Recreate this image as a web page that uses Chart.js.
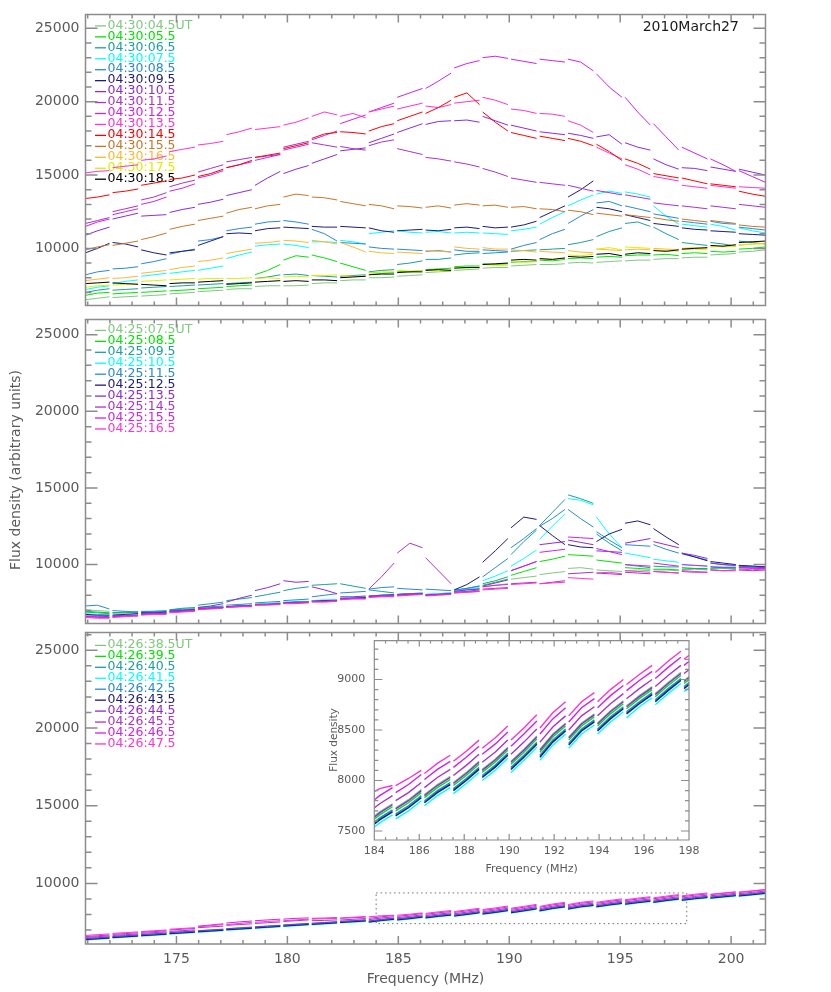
<!DOCTYPE html>
<html>
<head>
<meta charset="utf-8">
<script src="https://cdn.jsdelivr.net/npm/chart.js@4/dist/chart.umd.min.js"></script>
<style>
  html, body { margin: 0; padding: 0; background: #ffffff; }
  #wrap { position: relative; width: 831px; height: 992px; overflow: hidden; background: #ffffff; }
  canvas { position: absolute; }
</style>
</head>
<body>
<div id="wrap">
  <canvas id="cTop" width="831" height="320" style="left:0;top:0"></canvas>
  <canvas id="cMid" width="831" height="333" style="left:0;top:305px"></canvas>
  <canvas id="cBot" width="831" height="374" style="left:0;top:618px"></canvas>
  <canvas id="cIns" width="420" height="260" style="left:290px;top:625px"></canvas>
</div>
<script>
// ---------------- frequency axis / data segmentation ----------------
const freqMin = 170.9, freqMax = 201.55;
// frequencies where the receiver data have small gaps (sub-band boundaries)
const gapFreqs = [172.05, 173.34, 174.62, 175.9, 177.18, 178.47, 179.75, 181.03, 182.31, 183.6,
  184.88, 186.16, 187.45, 188.73, 190.01, 191.3, 192.58, 193.86, 195.15, 196.43, 197.71, 199.0, 200.28];
const gapHalfWidth = 0.07;
const xTickLabels = [175, 180, 185, 190, 195, 200];
const yTickLabels = [10000, 15000, 20000, 25000];
const insetXTicks = [184, 186, 188, 190, 192, 194, 196, 198];
const insetYTicks = [7500, 8000, 8500, 9000];

// ---------------- panel 1 : 04:30 UT ----------------
const topLabels = ['04:30:04.5UT','04:30:05.5','04:30:06.5','04:30:07.5','04:30:08.5','04:30:09.5','04:30:10.5',
  '04:30:11.5','04:30:12.5','04:30:13.5','04:30:14.5','04:30:15.5','04:30:16.5','04:30:17.5','04:30:18.5'];
const t045 = [6500,6600,6700, 6650,6700,6750, 6750,6800,6850, 6900,6950,7000,
  7050,7100,7150, 7200,7250,7250, 7400,7450,7450, 7450,7450,7500,
  7600,7650,7650, 7800,7850,7850, 8000,8000,8050, 8100,8150,8200,
  8350,8400,8450, 8500,8550,8600, 8650,8700,8700, 8800,8850,8900,
  8900,8900,8950, 9000,9050,9000, 9050,9100,9150, 9150,9200,9200,
  9250,9300,9300, 9350,9400,9400, 9550,9600,9650, 9750,9800,9900];
const t055 = [6800,6950,7000, 6900,6950,7000, 7000,7050,7100, 7100,7150,7200,
  7250,7300,7350, 7400,7450,7500, 8200,8500,8900, 9200,9500,9400,
  9550,9350,9100, 9000,8750,8500, 8350,8300,8350, 8450,8400,8500,
  8550,8600,8650, 8750,8800,8800, 8950,8900,8950, 9050,9100,9100,
  9200,9150,9250, 9300,9350,9300, 9400,9450,9400, 9500,9550,9550,
  9550,9600,9500, 9650,9700,9650, 9800,9750,9800, 9950,10000,10100];
const t065 = [7000,7150,7250, 7150,7200,7250, 7300,7350,7400, 7400,7450,7500,
  7500,7550,7600, 7600,7650,7700, 7950,8050,8200, 8200,8250,8150,
  8150,8100,8050, 8100,8150,8200, 8400,8500,8550, 8900,9000,9150,
  9250,9250,9350, 9550,9650,9700, 9650,9700,9750, 9800,9850,9900,
  9900,9950,10000, 10250,10400,10600, 10800,11150,11400, 11700,11800,11500,
  11450,11000,10600, 10400,10300,10200, 10400,10300,10150, 10500,10400,10300];
const t075 = [7200,7350,7450, 7600,7750,7850, 8100,8200,8300, 8300,8400,8500,
  8500,8650,8800, 9300,9550,9750, 10150,10250,10300, 10300,10200,10050,
  10450,10450,10400, 10550,10450,10300, 11000,11100,11200, 11200,11100,11050,
  11100,11150,11050, 11050,11100,11050, 11050,11000,10950, 11200,11300,11450,
  11650,12100,12500, 12900,13300,13650, 13700,13900,13750, 13850,13700,13500,
  12900,12200,11650, 11650,11550,11450, 11650,11500,11250, 11400,11200,11050];
const t085 = [8200,8400,8500, 8600,8650,8750, 8950,9100,9300, 9600,9800,9950,
  10500,10600,10800, 11200,11350,11450, 11650,11800,11850, 11900,11800,11650,
  11300,11000,10500, 10400,10350,10300, 10100,10000,9950, 9950,9900,9850,
  9800,9850,9750, 9900,9800,9800, 9900,9850,9800, 9950,10200,10400,
  10600,11000,11300, 11700,12200,12650, 13100,13200,12900, 12900,12700,12500,
  12350,12200,12050, 11850,11750,11650, 11850,11700,11650, 11450,11350,11250];
const t095 = [9700,10000,10350, 10400,10300,10100, 9900,9700,9550, 9700,9800,9900,
  10200,10500,10800, 11000,11050,11000, 11200,11350,11400, 11450,11400,11350,
  11500,11450,11450, 11500,11450,11400, 11400,11200,11100, 11200,11250,11300,
  11250,11200,11300, 11400,11450,11350, 11500,11400,11450, 11450,11600,11850,
  12100,12500,12900, 13500,14000,14600, 12800,12700,12500, 12300,12100,11900,
  11700,11600,11500, 11400,11300,11250, 11200,11150,11100, 11000,10950,10900];
const t105 = [10900,11200,11450, 12000,12200,12400, 12200,12250,12300, 12450,12650,12800,
  13000,13150,13350, 13600,13800,14000, 14300,14800,15250, 15100,15400,15650,
  15800,16100,16400, 16650,16750,16850, 17200,17500,17800, 17900,18200,18500,
  18450,18650,18700, 18700,18750,18600, 19000,18700,18400, 18400,18200,18000,
  17950,17850,17750, 17850,17700,17500, 17600,17750,17100, 17200,16900,16700,
  16100,15700,15400, 15500,15450,15300, 15550,15400,15250, 15400,15200,15000];
const t115 = [11700,11900,12100, 12500,12700,12900, 13300,13500,13800, 14200,14450,14650,
  15200,15450,15700, 15900,16050,16200, 16200,16300,16400, 16900,17100,17300,
  17200,17050,16900, 16950,16800,16700, 17000,17250,17400, 16800,16600,16400,
  16200,16100,15950, 15900,15750,15550, 15450,15200,14900, 14800,14650,14500,
  14500,14400,14300, 14300,14100,13900, 13950,13800,13650, 13650,13500,13350,
  13100,13000,12900, 12900,12800,12700, 12900,12800,12700, 13000,12900,12800];
const t125 = [11500,11800,12000, 12300,12500,12700, 13000,13200,13500, 13900,14100,14400,
  14800,15000,15300, 15500,15700,15900, 16000,16200,16400, 16700,16900,17100,
  17400,17700,18000, 18500,18800,19100, 19300,19600,19900, 20300,20600,20900,
  20900,21400,21950, 22300,22600,22800, 23000,23100,22950, 22900,22750,22600,
  22900,22800,22700, 22900,22700,22100, 21900,21000,20300, 20300,19300,18400,
  18500,17600,16700, 16900,16500,16100, 16100,15700,15250, 15300,14900,14500];
const t135 = [15150,15250,15300, 15500,15600,15700, 16000,16100,16300, 16600,16750,16900,
  17050,17150,17300, 17750,17950,18200, 18100,18200,18300, 18400,18600,18900,
  19000,19300,19100, 19000,19200,18900, 19300,19500,19700, 19500,19700,19900,
  19700,19600,19800, 19900,20000,20100, 20300,20100,19800, 19500,19400,19200,
  19200,19150,19000, 18700,18400,17900, 16900,16500,16100, 15700,15400,15000,
  14900,14750,14600, 14300,14200,14100, 14300,14200,14100, 14200,14150,14100];
const t145 = [13400,13500,13650, 13800,13900,14050, 14300,14450,14600, 14700,14800,15000,
  14900,15100,15400, 15500,15700,16000, 16200,16350,16500, 16800,17000,17200,
  17500,17800,17900, 17950,17900,17800, 18000,18300,18500, 18700,19000,19300,
  19200,19600,20100, 20300,20600,19800, 19300,18600,18000, 17900,17700,17500,
  17650,17500,17350, 17500,17300,17000, 17100,16600,16000, 16100,15800,15400,
  15100,14950,14800, 14800,14600,14400, 14400,14300,14200, 13900,13700,13550];
const t155 = [9900,10100,10250, 10200,10350,10500, 10600,10800,11050, 11300,11500,11650,
  11900,12050,12200, 12400,12650,12800, 12700,12900,13000, 13500,13700,13600,
  13500,13450,13300, 13200,13050,12900, 13000,12900,12700, 12900,12850,12750,
  12800,12900,12750, 12950,13050,12950, 12900,12950,12800, 12800,12850,12700,
  12700,12650,12500, 12600,12500,12300, 12400,12300,12200, 12300,12200,12100,
  12100,11950,11850, 12000,11900,11800, 11900,11800,11700, 11600,11500,11450];
const t165 = [7800,7900,8000, 7950,8000,8100, 8300,8400,8500, 8550,8700,8800,
  9100,9200,9350, 9650,9800,9950, 10350,10400,10500, 10550,10500,10400,
  10550,10450,10300, 10400,10100,9750, 9800,9700,9650, 9750,9700,9650,
  9850,9800,9750, 10100,10000,9950, 10050,9950,9950, 9900,9850,9750,
  9800,9750,9700, 9850,9750,9700, 9950,9900,9850, 9900,9950,9900,
  10000,9950,9900, 10000,10050,10000, 10100,10150,10200, 10200,10300,10350];
const t175 = [7350,7450,7500, 7500,7550,7600, 7750,7800,7850, 7850,7900,7950,
  7900,7950,7950, 7950,7950,8000, 7950,8000,7950, 8050,8100,8050,
  8150,8150,8200, 8150,8100,8100, 8350,8400,8400, 8500,8450,8500,
  8500,8450,8550, 8700,8650,8750, 8900,8850,8850, 9100,9050,9100,
  9300,9250,9300, 9550,9500,9600, 9950,10050,9900, 10100,10050,10000,
  9900,9850,9800, 9900,9950,9900, 10150,10100,10150, 10250,10300,10300];
const t185 = [7600,7650,7700, 7650,7600,7550, 7550,7500,7450, 7600,7650,7650,
  7700,7750,7800, 7550,7600,7650, 7700,7750,7800, 7750,7800,7750,
  7850,7850,7800, 8000,8050,8100, 8200,8250,8250, 8350,8400,8400,
  8500,8550,8500, 8650,8700,8700, 8900,8950,9000, 9200,9250,9200,
  9300,9250,9350, 9450,9400,9450, 9600,9650,9500, 9600,9700,9650,
  9850,9800,9900, 9950,10000,10050, 10200,10150,10250, 10400,10450,10500];

// ---------------- panel 2 : 04:25 UT ----------------
const midLabels = ['04:25:07.5UT','04:25:08.5','04:25:09.5','04:25:10.5','04:25:11.5',
  '04:25:12.5','04:25:13.5','04:25:14.5','04:25:15.5','04:25:16.5'];
const m075 = [7050,7000,6950, 6850,6850,6900, 6850,6900,6900, 7000,7050,7100,
  7150,7200,7250, 7250,7300,7350, 7400,7450,7450, 7500,7550,7550,
  7600,7650,7700, 7800,7850,7850, 7950,8000,8000, 8050,8100,8100,
  8000,8050,8100, 8200,8250,8300, 8550,8650,8750, 9050,9150,9250,
  9350,9450,9550, 9750,9800,9700, 9650,9600,9550, 9600,9650,9600,
  9650,9650,9600, 9650,9700,9650, 9700,9750,9700, 9750,9800,9750];
const m085 = [6900,6850,6800, 6850,6850,6900, 6900,6900,6950, 7000,7050,7100,
  7150,7200,7250, 7250,7300,7350, 7400,7450,7500, 7500,7550,7600,
  7650,7650,7700, 7800,7850,7850, 7950,8000,8050, 8050,8100,8100,
  8050,8050,8100, 8250,8350,8450, 8650,8850,9050, 9300,9550,9800,
  10200,10350,10550, 10650,10600,10550, 10300,10200,10100, 9800,9750,9700,
  9700,9700,9650, 9700,9750,9700, 9750,9800,9750, 9800,9850,9800];
const m095 = [6950,6900,6850, 6850,6900,6900, 6950,6950,7000, 7050,7150,7200,
  7350,7450,7550, 7650,7750,7850, 7900,8050,8200, 8300,8450,8550,
  8650,8700,8750, 8750,8600,8450, 8350,8250,8150, 8050,8100,8150,
  8050,8100,8150, 8300,8450,8600, 8750,8950,9200, 10650,11500,12250,
  12550,13400,14250, 14550,14300,14000, 12000,11400,10900, 10000,9900,9800,
  9900,9850,9850, 9800,9750,9750, 9850,9800,9800, 9850,9800,9850];
const m105 = [6800,6750,6700, 6700,6750,6800, 6850,6850,6900, 6950,7000,7050,
  7100,7150,7200, 7250,7300,7350, 7400,7450,7500, 7550,7600,7600,
  7650,7700,7700, 7800,7850,7900, 7950,8000,8000, 8050,8100,8150,
  8050,8100,8150, 8300,8400,8500, 8950,9250,9600, 9900,10400,10950,
  11650,12500,13300, 14300,14200,13900, 13100,12000,11100, 10750,10600,10450,
  10350,10250,10150, 10000,9950,9900, 9900,9850,9850, 9900,9850,9800];
const m115 = [7300,7350,7100, 7000,6950,6900, 6900,6950,6950, 7050,7100,7100,
  7200,7250,7300, 7350,7400,7450, 7500,7550,7600, 7650,7700,7750,
  7900,8000,8100, 8150,8200,8250, 8400,8500,8550, 8450,8400,8350,
  8400,8350,8300, 8350,8450,8600, 9200,9800,10400, 11100,11700,12350,
  12500,13000,13600, 13600,13000,12450, 12150,11600,11100, 11300,11250,11200,
  11300,11000,10750, 10700,10500,10300, 10100,10000,9950, 9950,9900,9850];
const m125 = [6750,6700,6700, 6700,6750,6800, 6850,6850,6900, 6950,7000,7050,
  7100,7150,7200, 7250,7300,7300, 7400,7400,7450, 7500,7550,7550,
  7600,7650,7650, 7750,7800,7850, 7900,7950,7950, 8000,8050,8100,
  8000,8050,8100, 8350,8700,9200, 10150,10900,11700, 12400,13100,12950,
  12550,11900,11300, 11300,11150,11100, 11500,12000,12300, 12700,12850,12600,
  12350,11800,11300, 10750,10500,10250, 10200,10100,10000, 9950,9900,9850];
const m135 = [6650,6650,6600, 6650,6700,6700, 6800,6850,6850, 6950,7000,7050,
  7200,7300,7450, 7550,7800,8000, 8300,8500,8750, 8950,8850,8900,
  8550,8350,8100, 7900,7900,7950, 7950,8000,8050, 8050,8100,8100,
  8000,8050,8100, 8250,8350,8400, 8600,8800,9000, 9600,9900,10200,
  11300,11400,11500, 11600,11450,11300, 10900,10850,10800, 11400,11550,11700,
  11500,11300,11100, 10750,10600,10400, 10100,10000,9950, 9900,9850,9800];
const m145 = [6600,6600,6550, 6600,6650,6700, 6750,6800,6800, 6900,6950,7000,
  7100,7150,7200, 7250,7300,7300, 7400,7400,7450, 7500,7500,7550,
  7600,7600,7650, 7750,7800,7800, 8400,9200,10100, 10750,11400,11100,
  10450,9600,8750, 8150,8200,8250, 8400,8450,8500, 8750,8800,8850,
  8750,8850,8950, 9400,9450,9500, 9450,9400,9350, 9500,9450,9400,
  9550,9500,9450, 9550,9500,9500, 9650,9600,9650, 9650,9600,9650];
const m155 = [6600,6550,6550, 6600,6650,6650, 6750,6800,6800, 6900,6950,7000,
  7100,7150,7200, 7200,7250,7300, 7350,7400,7450, 7500,7500,7550,
  7600,7600,7650, 7750,7800,7800, 7900,7950,7950, 8000,8050,8100,
  8000,8050,8100, 8200,8250,8350, 8550,8650,8700, 9600,9900,10200,
  10800,10900,11000, 11800,11750,11700, 11050,10850,10650, 10000,9950,9900,
  10100,10000,9900, 10000,9950,9900, 9850,9800,9800, 9800,9750,9750];
const m165 = [6550,6500,6500, 6550,6600,6650, 6700,6750,6750, 6850,6900,6950,
  7050,7100,7150, 7200,7250,7250, 7350,7350,7400, 7450,7450,7500,
  7550,7550,7600, 7700,7750,7750, 7850,7900,7900, 7950,8000,8050,
  7950,8000,8050, 8150,8200,8250, 8350,8400,8450, 8700,8750,8800,
  8750,8800,8850, 9150,9100,9050, 9450,9500,9400, 9600,9550,9500,
  9550,9500,9450, 9600,9550,9500, 9650,9600,9600, 9650,9700,9650];

// ---------------- panel 3 : 04:26 UT ----------------
const botLabels = ['04:26:38.5UT','04:26:39.5','04:26:40.5','04:26:41.5','04:26:42.5',
  '04:26:43.5','04:26:44.5','04:26:45.5','04:26:46.5','04:26:47.5'];
const b385 = [6460,6510,6560, 6590,6640,6690, 6710,6760,6810, 6840,6890,6940,
  6960,7010,7060, 7090,7140,7190, 7210,7260,7310, 7330,7380,7430,
  7440,7490,7540, 7560,7610,7660, 7590,7690,7770, 7730,7810,7910,
  7860,7960,8040, 7980,8080,8190, 8110,8210,8330, 8190,8310,8440,
  8310,8460,8570, 8430,8570,8660, 8570,8690,8790, 8740,8840,8930,
  8860,8970,9070, 8990,9090,9170, 9130,9210,9290, 9270,9350,9440];
const b395 = [6430,6480,6530, 6560,6610,6660, 6680,6730,6790, 6810,6860,6910,
  6930,6980,7030, 7060,7110,7160, 7180,7230,7280, 7300,7350,7400,
  7410,7460,7510, 7530,7580,7630, 7560,7660,7740, 7700,7780,7880,
  7830,7930,8010, 7950,8050,8160, 8080,8180,8300, 8160,8280,8410,
  8280,8430,8540, 8400,8540,8630, 8540,8660,8760, 8710,8810,8900,
  8830,8940,9040, 8960,9060,9140, 9100,9180,9260, 9240,9320,9410];
const b405 = [6390,6440,6490, 6520,6570,6620, 6640,6690,6740, 6770,6820,6870,
  6890,6940,6990, 7020,7070,7120, 7140,7190,7240, 7260,7310,7360,
  7370,7420,7470, 7490,7540,7590, 7520,7620,7700, 7660,7740,7840,
  7790,7890,7970, 7910,8010,8120, 8040,8140,8260, 8120,8240,8370,
  8240,8390,8500, 8360,8500,8590, 8500,8620,8720, 8670,8770,8860,
  8790,8900,9000, 8920,9020,9100, 9060,9140,9220, 9200,9280,9370];
const b415 = [6350,6400,6450, 6480,6530,6580, 6600,6650,6700, 6730,6780,6830,
  6850,6900,6950, 6980,7030,7080, 7100,7150,7200, 7220,7270,7320,
  7330,7380,7430, 7450,7500,7550, 7480,7580,7660, 7620,7700,7800,
  7750,7850,7930, 7870,7970,8080, 8000,8100,8220, 8080,8200,8330,
  8200,8350,8460, 8320,8460,8550, 8460,8580,8680, 8620,8730,8820,
  8750,8860,8960, 8880,8980,9060, 9020,9100,9180, 9160,9240,9330];
const b425 = [6400,6450,6500, 6530,6580,6630, 6650,6700,6750, 6780,6830,6880,
  6900,6950,7000, 7030,7080,7130, 7150,7200,7250, 7270,7320,7370,
  7380,7430,7480, 7500,7550,7600, 7530,7630,7710, 7670,7750,7850,
  7800,7900,7980, 7920,8020,8130, 8050,8150,8270, 8130,8250,8380,
  8250,8400,8510, 8370,8510,8600, 8510,8630,8730, 8680,8780,8870,
  8800,8910,9010, 8930,9030,9110, 9070,9150,9230, 9210,9290,9380];
const b435 = [6380,6430,6480, 6510,6560,6610, 6630,6680,6730, 6760,6810,6860,
  6880,6930,6980, 7010,7060,7110, 7130,7180,7230, 7250,7300,7350,
  7360,7410,7460, 7480,7530,7580, 7510,7610,7690, 7650,7730,7830,
  7780,7880,7960, 7900,8000,8110, 8030,8130,8250, 8110,8230,8360,
  8230,8380,8490, 8350,8490,8580, 8490,8610,8710, 8660,8760,8850,
  8780,8890,8990, 8910,9010,9090, 9050,9130,9210, 9190,9270,9360];
const b445 = [6450,6500,6550, 6580,6630,6680, 6700,6750,6800, 6830,6880,6930,
  6950,7000,7050, 7080,7130,7180, 7200,7250,7300, 7320,7370,7420,
  7430,7480,7530, 7550,7600,7650, 7580,7680,7760, 7720,7800,7900,
  7850,7950,8030, 7970,8070,8180, 8100,8200,8320, 8180,8300,8430,
  8300,8450,8560, 8420,8560,8650, 8560,8680,8780, 8730,8830,8920,
  8850,8960,9060, 8980,9080,9160, 9120,9200,9280, 9260,9340,9430];
const b455 = [6520,6570,6620, 6650,6700,6750, 6780,6830,6880, 6910,6960,7010,
  7150,7200,7250, 7300,7350,7400, 7420,7470,7520, 7550,7600,7650,
  7600,7620,7650, 7640,7690,7740, 7670,7770,7850, 7800,7880,7980,
  7930,8030,8110, 8050,8150,8260, 8180,8280,8400, 8260,8380,8510,
  8380,8530,8640, 8500,8640,8730, 8640,8760,8860, 8810,8910,9000,
  8930,9040,9140, 9060,9160,9240, 9200,9280,9360, 9340,9420,9510];
const b465 = [6580,6630,6680, 6720,6770,6820, 6850,6900,6950, 7000,7050,7100,
  7250,7320,7400, 7450,7520,7580, 7600,7650,7700, 7700,7750,7780,
  7750,7770,7800, 7750,7790,7830, 7750,7850,7930, 7880,7960,8060,
  8010,8110,8190, 8130,8230,8340, 8260,8360,8480, 8340,8460,8590,
  8460,8610,8720, 8580,8720,8810, 8720,8840,8940, 8890,8990,9080,
  9010,9120,9220, 9140,9240,9320, 9280,9360,9440, 9420,9500,9590];
const b475 = [6650,6700,6750, 6780,6830,6880, 6900,6950,7000, 7050,7100,7150,
  7200,7280,7350, 7350,7420,7500, 7500,7550,7600, 7600,7650,7700,
  7700,7720,7750, 7770,7820,7870, 7850,7920,7950, 7950,8020,8100,
  8070,8170,8250, 8190,8290,8400, 8320,8420,8540, 8400,8520,8650,
  8520,8670,8780, 8640,8780,8870, 8780,8900,9000, 8950,9050,9140,
  9070,9180,9280, 9200,9300,9380, 9300,9380,9460, 9440,9520,9610];

// ---------------- colours ----------------
const baseColors = ['#80c880', '#00e400', '#1e9e9e', '#00ffff', '#2a88dc', '#1c1c7e',
  '#8a2be2', '#a933cc', '#cc22ee', '#ff33cc'];
const extraColors = ['#ff0000', '#c87628', '#ffb830', '#dfee00', '#000000'];
const topColors = baseColors.concat(extraColors);

const topSeries = [t045, t055, t065, t075, t085, t095, t105, t115, t125, t135, t145, t155, t165, t175, t185];
const midSeries = [m075, m085, m095, m105, m115, m125, m135, m145, m155, m165];
const botSeries = [b385, b395, b405, b415, b425, b435, b445, b455, b465, b475];

// ---------------- helpers ----------------
function segmentBounds() {
  const b = []; let a = freqMin;
  for (const g of gapFreqs) { b.push([a, g - gapHalfWidth]); a = g + gapHalfWidth; }
  b.push([a, freqMax]);
  return b;
}
const sampleFreqs = segmentBounds().flatMap(([a, b]) => [a, (a + b) / 2, b]);
function toPoints(vals) {
  const pts = [];
  const nSeg = gapFreqs.length + 1;
  for (let k = 0; k < nSeg; k++) {
    for (let i = 0; i < 3; i++) pts.push({ x: sampleFreqs[k * 3 + i], y: vals[k * 3 + i] });
    if (k < nSeg - 1) pts.push({ x: gapFreqs[k], y: null });
  }
  return pts;
}
function tickVals(min, max, step) {
  const out = [];
  const k0 = Math.ceil(min / step - 1e-9), k1 = Math.floor(max / step + 1e-9);
  for (let k = k0; k <= k1; k++) out.push(k * step);
  return out;
}
function isMajor(v, major) { return Math.abs(v / major - Math.round(v / major)) < 1e-6; }

const FONT = 'DejaVu Sans';
const GRAY = '#5a5a5a';
const FRAME = '#8c8c8c';

const decor = {
  id: 'decor',
  beforeDatasetsDraw(chart, args, o) {
    const { ctx, chartArea: a } = chart;
    if (o.legend) {
      const L = o.legend;
      ctx.save();
      ctx.font = L.font;
      ctx.textBaseline = 'middle';
      ctx.textAlign = 'left';
      L.labels.forEach((lab, i) => {
        const yy = a.top + L.y0 + i * L.step;
        ctx.strokeStyle = L.colors[i];
        ctx.lineWidth = 1.3;
        ctx.beginPath(); ctx.moveTo(L.x0, yy + 0.5); ctx.lineTo(L.x1, yy + 0.5); ctx.stroke();
        ctx.fillStyle = L.colors[i];
        ctx.fillText(lab, L.tx, yy);
      });
      ctx.restore();
    }
  },
  afterDatasetsDraw(chart, args, o) {
    const { ctx, chartArea: a } = chart;
    const xs = chart.scales.x, ys = chart.scales.y;
    ctx.save();
    ctx.strokeStyle = o.frameColor;
    ctx.lineWidth = o.frameWidth;
    ctx.beginPath();
    ctx.rect(a.left, a.top, a.right - a.left, a.bottom - a.top);
    for (const v of tickVals(xs.min, xs.max, o.xMinor)) {
      const len = isMajor(v, o.xMajor) ? o.xMajorLen : o.xMinorLen;
      const p = xs.getPixelForValue(v);
      ctx.moveTo(p, a.bottom); ctx.lineTo(p, a.bottom - len);
      ctx.moveTo(p, a.top); ctx.lineTo(p, a.top + len);
    }
    for (const v of tickVals(ys.min, ys.max, o.yMinor)) {
      const len = isMajor(v, o.yMajor) ? o.yMajorLen : o.yMinorLen;
      const p = ys.getPixelForValue(v);
      ctx.moveTo(a.left, p); ctx.lineTo(a.left + len, p);
      ctx.moveTo(a.right, p); ctx.lineTo(a.right - len, p);
    }
    ctx.stroke();
    if (o.box) {
      const B = o.box;
      const x1 = xs.getPixelForValue(B.x0), x2 = xs.getPixelForValue(B.x1);
      const y1 = ys.getPixelForValue(B.y1), y2 = ys.getPixelForValue(B.y0);
      ctx.setLineDash([1.5, 3]);
      ctx.strokeStyle = '#707070';
      ctx.lineWidth = 1;
      ctx.strokeRect(x1, y1, x2 - x1, y2 - y1);
      ctx.setLineDash([]);
    }
    if (o.texts) {
      for (const t of o.texts) {
        ctx.save();
        ctx.translate(t.x, t.y);
        if (t.rot) ctx.rotate(t.rot);
        ctx.font = t.font;
        ctx.fillStyle = t.color;
        ctx.textAlign = t.align || 'center';
        ctx.textBaseline = 'middle';
        ctx.fillText(t.text, 0, 0);
        ctx.restore();
      }
    }
    ctx.restore();
  }
};

function makeDatasets(series, colors, width) {
  return series.map((vals, i) => ({
    data: toPoints(vals),
    borderColor: colors[i],
    backgroundColor: colors[i],
    borderWidth: width,
    pointRadius: 0,
    tension: 0,
    spanGaps: false,
    fill: false,
    order: series.length - i
  }));
}

function panelConfig(p) {
  return {
    type: 'line',
    data: { datasets: makeDatasets(p.series, p.colors, p.lineWidth || 1) },
    plugins: [decor],
    options: {
      responsive: false,
      animation: false,
      events: [],
      layout: { padding: p.padding },
      plugins: {
        legend: { display: false },
        tooltip: { enabled: false },
        decor: p.decor
      },
      scales: {
        x: {
          type: 'linear', min: p.xMin, max: p.xMax,
          display: p.showX,
          afterFit: s => { s.height = p.xHeight || 0; },
          afterBuildTicks: s => { s.ticks = p.xTicks.map(v => ({ value: v })); },
          grid: { display: false, drawTicks: false },
          border: { display: false },
          ticks: { font: { family: FONT, size: p.fontSize }, color: GRAY, padding: p.xPad, maxRotation: 0, autoSkip: false,
                   callback: v => String(v) }
        },
        y: {
          type: 'linear', min: p.yMin, max: p.yMax,
          afterFit: s => { s.width = p.yWidth; },
          afterBuildTicks: s => { s.ticks = p.yTicks.map(v => ({ value: v })); },
          grid: { display: false, drawTicks: false },
          border: { display: false },
          ticks: { font: { family: FONT, size: p.fontSize }, color: GRAY, padding: p.yPad, autoSkip: false,
                   callback: v => String(v) }
        }
      }
    }
  };
}

const mainTicks = { frameColor: FRAME, frameWidth: 1.5, xMinor: 1, xMajor: 5, xMinorLen: 4, xMajorLen: 8,
  yMinor: 1000, yMajor: 5000, yMinorLen: 6, yMajorLen: 12 };
const legendBase = { x0: 95, x1: 106, tx: 107.5, step: 10.95, font: '12.5px "DejaVu Sans"' };

// top panel
new Chart(document.getElementById('cTop'), panelConfig({
  series: topSeries, colors: topColors,
  padding: { left: 0, right: 65.5, top: 0, bottom: 5 },
  xMin: freqMin, xMax: freqMax, showX: false, xTicks: xTickLabels, xPad: 7,
  yMin: 6100, yMax: 25950, yTicks: yTickLabels, yWidth: 85.5, yPad: 6, fontSize: 14,
  decor: Object.assign({}, mainTicks, {
    legend: Object.assign({}, legendBase, { y0: 11, labels: topLabels, colors: topColors }),
    texts: [{ text: '2010March27', x: 642.7, y: 27, font: '14px "DejaVu Sans"', color: '#1a1a1a', align: 'left' }]
  })
}));

// middle panel
new Chart(document.getElementById('cMid'), panelConfig({
  series: midSeries, colors: baseColors,
  padding: { left: 0, right: 65.5, top: 10, bottom: 5 },
  xMin: freqMin, xMax: freqMax, showX: false, xTicks: xTickLabels, xPad: 7,
  yMin: 6150, yMax: 26000, yTicks: yTickLabels, yWidth: 85.5, yPad: 6, fontSize: 14,
  decor: Object.assign({}, mainTicks, {
    legend: Object.assign({}, legendBase, { y0: 10.5, labels: midLabels, colors: baseColors }),
    texts: [{ text: 'Flux density (arbitrary units)', x: 16.5, y: 165, rot: -Math.PI / 2, font: '14px "DejaVu Sans"', color: GRAY }]
  })
}));

// bottom panel
new Chart(document.getElementById('cBot'), panelConfig({
  series: botSeries, colors: baseColors,
  padding: { left: 0, right: 65.5, top: 10, bottom: 0 },
  xMin: freqMin, xMax: freqMax, showX: true, xHeight: 48, xTicks: xTickLabels, xPad: 7,
  yMin: 6100, yMax: 26150, yTicks: yTickLabels, yWidth: 85.5, yPad: 6, fontSize: 14,
  decor: Object.assign({}, mainTicks, {
    legend: Object.assign({}, legendBase, { y0: 12.5, labels: botLabels, colors: baseColors }),
    box: { x0: 184, x1: 198, y0: 7411, y1: 9385 },
    texts: [{ text: 'Frequency (MHz)', x: 425.5, y: 361, font: '14px "DejaVu Sans"', color: GRAY }]
  })
}));

// inset (zoom of bottom panel)
new Chart(document.getElementById('cIns'), panelConfig({
  series: botSeries, colors: baseColors, lineWidth: 1.4,
  padding: { left: 0, right: 21, top: 15, bottom: 0 },
  xMin: 184, xMax: 198, showX: true, xHeight: 45, xTicks: insetXTicks, xPad: 5,
  yMin: 7411, yMax: 9385, yTicks: insetYTicks, yWidth: 84.3, yPad: 9, fontSize: 11,
  decor: {
    frameColor: FRAME, frameWidth: 1.2, xMinor: 0.5, xMajor: 2, xMinorLen: 3, xMajorLen: 6,
    yMinor: 100, yMajor: 500, yMinorLen: 4, yMajorLen: 8,
    texts: [
      { text: 'Frequency (MHz)', x: 241.6, y: 244, font: '11px "DejaVu Sans"', color: GRAY },
      { text: 'Flux density', x: 44, y: 115, rot: -Math.PI / 2, font: '10.5px "DejaVu Sans"', color: GRAY }
    ]
  }
}));
</script>
</body>
</html>
